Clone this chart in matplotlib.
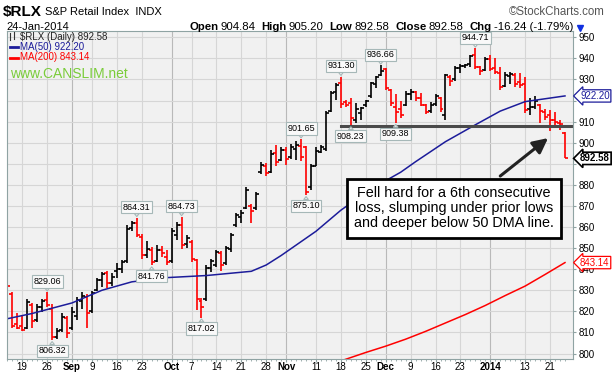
import matplotlib
matplotlib.use("Agg")
import matplotlib.pyplot as plt
import matplotlib.transforms as mtransforms
from matplotlib.lines import Line2D
import numpy as np

plt.rcParams["font.family"] = ["Liberation Sans", "DejaVu Sans"]

# daily bars 14-Aug-2013 .. 24-Jan-2014
opens = [834, 828, 814, 813, 812, 823, 816, 822, 825.5, 821,
         808, 811, 817, 812, 818, 825, 827, 820, 830, 835,
         838, 833.5, 839, 840, 844, 859.5, 862, 855.5, 846.5, 849,
         844, 849, 846, 844, 856, 861, 852, 853, 844.5, 825,
         826, 840.5, 842, 847.5, 843, 849.5, 861, 865, 869, 870,
         869, 886, 889, 886, 895, 892, 896.5, 893, 897, 898.5,
         898, 879, 889, 895.5, 897, 915, 924, 928.5, 919.5, 919,
         911, 914, 918, 922, 928, 932, 935, 925, 917, 916,
         918, 923, 924, 921, 918, 915, 918.5, 921, 913, 931,
         930, 935.5, 936.5, 937.5, 941.5, 936, 934.5, 939.5, 935.5, 933,
         927, 931.5, 932, 929, 928, 916, 917, 918, 914.5, 913,
         911, 909.5, 904.84]
highs = [835, 829, 819, 818, 826, 824, 823.5, 826, 829.06, 823.5,
         812, 819, 818, 822, 827, 829, 828, 829.5, 836, 838.5,
         839, 838, 843, 844.5, 861, 863, 864.31, 856.5, 853.5, 850.5,
         851.5, 851, 849, 859.5, 862.5, 864.73, 856, 854, 845, 826.5,
         842, 845, 849, 848.5, 851, 857, 866.5, 868, 879, 871,
         876.5, 891, 890.5, 896.5, 899, 898, 898, 899.5, 901, 901.65,
         898.5, 890, 898, 899, 915, 924.5, 928.5, 931.30, 920.5, 921,
         919, 917, 920.5, 929, 931.5, 936.66, 935.5, 925.5, 923, 920,
         924.5, 925.5, 924.5, 923.5, 918.5, 919.5, 923, 921.5, 932.5, 932,
         936.5, 937.5, 937.5, 941.5, 944.71, 936.5, 940.5, 941.5, 940, 936,
         933.5, 933.5, 933, 933, 931, 921, 922, 918.5, 916, 915.5,
         914.5, 911, 905.20]
lows = [831, 812, 811.5, 810.5, 811.5, 812, 815, 819.5, 822, 806.32,
        807, 810, 807.5, 811, 816, 821, 812, 819, 829.5, 831.5,
        831, 832, 836, 838, 843, 858, 855.5, 845, 845.5, 841.76,
        843.5, 846, 842, 843, 854, 849.5, 850, 843.5, 820.5, 817.02,
        825, 838.5, 841, 839, 842, 848, 860, 862, 868.5, 862,
        868, 885, 884, 885.5, 889, 891.5, 889.5, 892.5, 892, 891.5,
        875.10, 877.5, 889, 895, 896, 914.5, 920.5, 916.5, 917, 908.23,
        909.5, 911, 917, 921, 926, 931.5, 925, 917.5, 909.38, 911.5,
        917.5, 920.5, 920, 917.5, 913.5, 914, 917.5, 914.5, 911, 927,
        929.5, 933, 935.5, 936, 935, 932, 934, 934, 932.5, 925,
        926.5, 928, 926.5, 926, 914, 913, 916, 909.5, 911, 905.5,
        908.5, 906, 892.58]
closes = [832, 813, 812, 811, 824.5, 815.5, 822, 825, 823, 808,
          810.5, 817.5, 809.5, 819.5, 825.5, 827.5, 819, 828.5, 835, 837.5,
          833.5, 836.5, 840, 843.5, 859, 862, 856, 846.5, 849.5, 843.5,
          849, 847.5, 843.5, 858, 861, 851.5, 855, 845, 826, 822,
          840.5, 844, 848, 842, 850, 856, 865.5, 866.5, 877.5, 867.5,
          875.5, 889.5, 885.5, 894.5, 891, 896.5, 892.5, 898, 899, 893,
          876.5, 889, 896, 898, 914, 923.5, 927.5, 918.5, 918, 911.5,
          916, 916.5, 920, 928.5, 931, 934, 926, 919, 914.5, 913,
          923, 924, 921, 918, 914.5, 918, 922, 916, 932, 929.5,
          935.5, 936.5, 937, 941, 936, 934, 939.5, 935, 933.5, 926.5,
          932, 932.5, 928, 927.5, 915.5, 917, 920, 915, 912, 911,
          910, 908.82, 892.58]

# moving averages, sampled off the chart at some bar numbers
ma50_idx = [0, 5, 9, 13, 16, 19, 25, 32, 40, 49, 52, 55, 62, 67, 73, 79, 82, 88, 94, 99, 104, 112]
ma50_val = [816.5, 819, 821.5, 824, 827, 830, 834, 836, 837, 839, 842, 846.5,
            858, 868, 878, 886, 891, 900.5, 908.5, 915, 919.5, 922.2]
ma200_idx = [67, 72, 76, 80, 84, 88, 92, 96, 100, 104, 108, 112]
ma200_val = [796.5, 800.5, 803.5, 806.8, 810.5, 814.5, 818.5, 822.8, 827.5, 832, 837.5, 843.14]

# date axis
tick_idx = [3, 8, 13, 17, 22, 27, 33, 37, 42, 47, 52, 56, 62, 67, 72, 76, 81, 86, 91, 97, 104, 109]
tick_text = ["19", "26", "Sep", "9", "16", "23", "Oct", "7", "14", "21", "28", "Nov",
             "11", "18", "25", "Dec", "9", "16", "23", "2014", "13", "21"]
month_text = ["Sep", "Oct", "Nov", "Dec", "2014"]

# labelled highs and lows
peak_idx = [8, 26, 35, 59, 67, 75, 94]
trough_idx = [9, 29, 39, 60, 69, 78]
support_start = 67
support_level = 908.0

W, H = 614, 375
fig = plt.figure(figsize=(W / 100, H / 100), dpi=100)
ax = fig.add_axes([7.3 / W, 1 - 359 / H, 566 / W, 328 / H])
ax.set_facecolor("#f1f1f1")


def fx(px):
    return px / W


def fy(py):
    return 1 - py / H


o = np.array(opens)
h = np.array(highs)
l = np.array(lows)
c = np.array(closes)
x = np.arange(len(c))
prev = np.r_[c[0] + 1, c[:-1]]
cols = np.where(c > prev, "black", "#ff0000")

ax.vlines(x, l, h, colors=cols, lw=1.2)
ax.hlines(o, x - 0.6, x, colors=cols, lw=1.2)
ax.hlines(c, x, x + 0.6, colors=cols, lw=1.2)

ax.plot(ma50_idx, ma50_val, color="#1c1c9a", lw=1.1)
ax.plot(ma200_idx, ma200_val, color="#ff0000", lw=1.1)

ax.plot([support_start, len(c) + 2], [support_level, support_level], color="#4a4a4a", lw=2.2)

ax.set_xlim(0.11, 113.67)
ax.set_ylim(797.4, 953)

# grid
yticks = np.arange(800, 951, 10)
ax.set_yticks(yticks)
ax.set_yticklabels(["" if v in (920, 890) else str(v) for v in yticks])
ax.yaxis.tick_right()
ax.grid(axis="y", color="#d6d6d6", lw=0.8)
for i, t in zip(tick_idx, tick_text):
    ax.axvline(i, color="#b9b9b9" if t in month_text else "#d6d6d6", lw=0.8, zorder=0.5)
ax.set_axisbelow(True)

ax.set_xticks(tick_idx)
ax.set_xticklabels(tick_text)
for lab in ax.get_xticklabels():
    if lab.get_text() in month_text:
        lab.set_fontweight("bold")
        lab.set_fontsize(8)
ax.set_xticks(x, minor=True)
ax.tick_params(axis="x", which="major", labelsize=7, length=2, color="#8fa3a3", pad=0.5)
ax.tick_params(axis="x", which="minor", length=1.5, color="#8fa3a3")
ax.tick_params(axis="y", labelsize=7, length=2.5, color="#8fa3a3", pad=1.5)
for s in ax.spines.values():
    s.set_color("#8fa3a3")
    s.set_linewidth(0.8)

# labelled highs / lows
box = dict(boxstyle="square,pad=0.18", fc="#f9f9f9", ec="#a6b8b8", lw=0.8)
arr = dict(arrowstyle="wedge,tail_width=0.5", fc="#f9f9f9", ec="#a6b8b8", lw=0.8, shrinkA=0, shrinkB=1)
for i in peak_idx:
    ax.annotate(f"{h[i]:.2f}", xy=(i, h[i]), xytext=(0, 4.5), textcoords="offset points",
                ha="center", va="bottom", fontsize=6.5, bbox=box, arrowprops=arr)
for i in trough_idx:
    ax.annotate(f"{l[i]:.2f}", xy=(i, l[i]), xytext=(0, -4.5), textcoords="offset points",
                ha="center", va="top", fontsize=6.5, bbox=box, arrowprops=arr)

# comment box and arrow
ax.text(89.7, 869.0, "Fell hard for a 6th consecutive\nloss, slumping under prior lows\nand deeper below 50 DMA line.",
        ha="center", va="center", fontsize=10.4, linespacing=1.12, zorder=5,
        bbox=dict(boxstyle="square,pad=0.5", fc="white", ec="black", lw=2))
ax.annotate("", xy=(108.6, 902.2), xytext=(99.0, 884.2),
            arrowprops=dict(arrowstyle="-|>,head_length=0.9,head_width=0.45", color="#222222", lw=2.2,
                            shrinkA=0, shrinkB=0), zorder=6)

# value tags on the right axis
yt = mtransforms.blended_transform_factory(ax.transAxes, ax.transData)
ax.text(1.012, ma50_val[-1], f"{ma50_val[-1]:.2f}", transform=yt, fontsize=7, color="#1c1c9a",
        va="center", ha="left", clip_on=False, zorder=10,
        bbox=dict(boxstyle="larrow,pad=0.12", fc="white", ec="#1c1c9a", lw=0.9))
ax.text(1.012, c[-1], f"{c[-1]:.2f}", transform=yt, fontsize=7, fontweight="bold", color="black",
        va="center", ha="left", clip_on=False, zorder=10,
        bbox=dict(boxstyle="larrow,pad=0.12", fc="white", ec="black", lw=1.2))
ax.text(1.012, ma200_val[-1], f"{ma200_val[-1]:.2f}", transform=yt, fontsize=7, color="#ff0000",
        va="center", ha="left", clip_on=False, zorder=10,
        bbox=dict(boxstyle="larrow,pad=0.12", fc="white", ec="#ff0000", lw=0.9))

# legend inside the plot
fig.add_artist(Line2D([fx(10), fx(10)], [fy(33), fy(40)], color="#333333", lw=0.8))
fig.add_artist(Line2D([fx(14), fx(14)], [fy(32), fy(39)], color="#333333", lw=0.8))
fig.text(fx(20), fy(36.5), f"$RLX (Daily) {c[-1]:.2f}", fontsize=7, va="center", color="#222222")
fig.add_artist(Line2D([fx(10), fx(18)], [fy(46.5), fy(46.5)], color="#1c1c9a", lw=2))
fig.text(fx(20), fy(46.5), f"MA(50) {ma50_val[-1]:.2f}", fontsize=7, va="center", color="#1c1c9a")
fig.add_artist(Line2D([fx(10), fx(18)], [fy(57.5), fy(57.5)], color="#ff0000", lw=2))
fig.text(fx(20), fy(57.5), f"MA(200) {ma200_val[-1]:.2f}", fontsize=7, va="center", color="#ff0000")
fig.text(fx(10), fy(74.5), "www.CANSLIM.net", fontsize=10, va="center", color="#7acc3a")

# header
fig.text(fx(3), fy(12), "$RLX", fontsize=11, fontweight="bold", va="center")
fig.text(fx(45), fy(12), "S&P Retail Index  INDX", fontsize=8, va="center")
fig.text(fx(605), fy(12), "\u00a9StockCharts.com", fontsize=8.3, va="center", ha="right", color="#555555")
fig.text(fx(6), fy(27), "24-Jan-2014", fontsize=8, va="center")

pieces = [("Open", "bold", 2), ("904.84", "normal", 6), ("High", "bold", 2), ("905.20", "normal", 6),
          ("Low", "bold", 2), ("892.58", "normal", 6), ("Close", "bold", 2), ("892.58", "normal", 6),
          ("Chg", "bold", 2), ("-16.24 (-1.79%)", "normal", 0)]
renderer = fig.canvas.get_renderer()
texts = []
total = 0
for s, wt, gap in pieces:
    t = fig.text(0, fy(27), s, fontsize=8.2, fontweight=wt, va="center")
    wpx = t.get_window_extent(renderer).width
    texts.append((t, wpx, gap))
    total += wpx + gap
xpos = 573 - total
for t, wpx, gap in texts:
    t.set_x(fx(xpos))
    xpos += wpx + gap
fig.add_artist(Line2D([fx(580)], [fy(28)], marker="v", color="#1030e0", markersize=4.5))

fig.savefig("out.png", dpi=100)
